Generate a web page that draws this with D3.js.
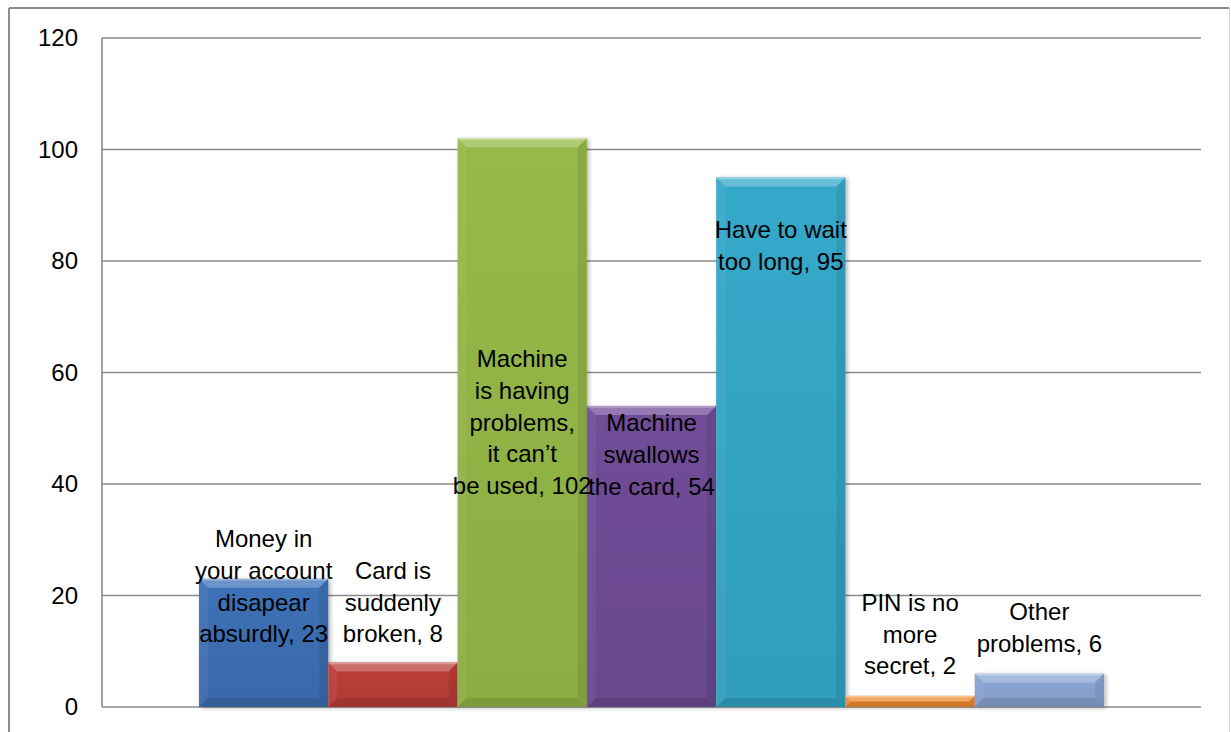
<!DOCTYPE html>
<html>
<head>
<meta charset="utf-8">
<script src="https://cdn.jsdelivr.net/npm/d3@7"></script>
<style>
  html, body { margin: 0; padding: 0; background: #ffffff; }
  svg { display: block; font-family: "Liberation Sans", Arial, sans-serif; }
</style>
</head>
<body>
<svg id="chart" width="1231" height="732"></svg>
<script>
// ---- data ----
const categories = [
  "Money in your account disapear absurdly",
  "Card is suddenly broken",
  "Machine is having problems, it can’t be used",
  "Machine swallows the card",
  "Have to wait too long",
  "PIN is no more secret",
  "Other problems"
];
const values = [23, 8, 102, 54, 95, 2, 6];
const labelLines = [
  ["Money in", "your account", "disapear", "absurdly, 23"],
  ["Card is", "suddenly", "broken, 8"],
  ["Machine", "is having", "problems,", "it can’t", "be used, 102"],
  ["Machine", "swallows", "the card, 54"],
  ["Have to wait", "too long, 95"],
  ["PIN is no", "more", "secret, 2"],
  ["Other", "problems, 6"]
];
const yTicks = [0, 20, 40, 60, 80, 100, 120];

// label anchor: value-axis level of the last line's baseline
const labelAnchor = [11.57, 11.57, 38.2, 38.1, 78.4, 5.83, 9.87];
const barColors = ["#3c6fb3", "#ba3d39", "#93b647", "#6f4c95", "#34a6c6", "#ef8a2f", "#8aa4d3"];

// ---- layout ----
const svg = d3.select("#chart");
const plot = { left: 102, right: 1201, top: 38, bottom: 707 };

const x = d3.scaleBand()
  .domain(categories)
  .range([plot.left, plot.right])
  .paddingInner(0)
  .paddingOuter(0.75);
const y = d3.scaleLinear().domain([0, 120]).range([plot.bottom, plot.top]);

// outer chart border
svg.append("line").attr("x1", 9).attr("y1", 8).attr("x2", 1229).attr("y2", 8)
  .attr("stroke", "#8c8c8c").attr("stroke-width", 2);
svg.append("line").attr("x1", 9).attr("y1", 8).attr("x2", 9).attr("y2", 740)
  .attr("stroke", "#8c8c8c").attr("stroke-width", 2);
svg.append("line").attr("x1", 1229.5).attr("y1", 8).attr("x2", 1229.5).attr("y2", 740)
  .attr("stroke", "#d4d4d4").attr("stroke-width", 1);

// gridlines
svg.append("g").selectAll("line").data(yTicks).join("line")
  .attr("x1", plot.left).attr("x2", plot.right)
  .attr("y1", d => y(d)).attr("y2", d => y(d))
  .attr("stroke", "#8a8a8a").attr("stroke-width", 1.6);

// plot area left border
svg.append("line").attr("x1", plot.left).attr("x2", plot.left)
  .attr("y1", y(120)).attr("y2", y(0))
  .attr("stroke", "#8a8a8a").attr("stroke-width", 1.6);

// y axis labels
const yAxis = d3.axisLeft(y).tickValues(yTicks).tickSize(0).tickPadding(24).tickFormat(d3.format("d"));
const ag = svg.append("g").attr("transform", `translate(${plot.left},0)`).call(yAxis);
ag.select(".domain").remove();
ag.selectAll("text")
  .attr("font-family", "'Liberation Sans', Arial, sans-serif")
  .attr("font-size", 24).attr("fill", "#000").attr("dy", "0.33em");

// shadow filter
const defs = svg.append("defs");
const f = defs.append("filter").attr("id", "shadow").attr("x", "-10%").attr("y", "-10%").attr("width", "130%").attr("height", "130%");
f.append("feGaussianBlur").attr("in", "SourceAlpha").attr("stdDeviation", 2);
f.append("feOffset").attr("dx", 2).attr("dy", 1).attr("result", "ob");
f.append("feComponentTransfer").append("feFuncA").attr("type", "linear").attr("slope", 0.3);
const fm = f.append("feMerge");
fm.append("feMergeNode");
fm.append("feMergeNode").attr("in", "SourceGraphic");

// gradients
barColors.forEach((c, i) => {
  const g = defs.append("linearGradient").attr("id", "grad" + i)
    .attr("x1", 0).attr("y1", 0).attr("x2", 0).attr("y2", 1);
  g.append("stop").attr("offset", "0%").attr("stop-color", d3.color(c).brighter(0.05));
  g.append("stop").attr("offset", "100%").attr("stop-color", d3.color(c).darker(0.15));
});

// bars with bevel
const bars = svg.append("g").selectAll("g").data(values).join("g")
  .attr("filter", "url(#shadow)");
bars.each(function(v, i) {
  const g = d3.select(this);
  const bx = x(categories[i]), bw = x.bandwidth();
  const by = y(v), bh = y(0) - y(v);
  const b = Math.min(9, bh / 2, bw / 2);
  g.append("rect").attr("x", bx).attr("y", by).attr("width", bw).attr("height", bh)
    .attr("fill", `url(#grad${i})`);
  // top bevel
  g.append("polygon")
    .attr("points", [[bx, by], [bx + bw, by], [bx + bw - b, by + b], [bx + b, by + b]].join(" "))
    .attr("fill", "#ffffff").attr("opacity", 0.25);
  // left
  g.append("polygon")
    .attr("points", [[bx, by], [bx + b, by + b], [bx + b, by + bh - b], [bx, by + bh]].join(" "))
    .attr("fill", "#ffffff").attr("opacity", 0.05);
  // right
  g.append("polygon")
    .attr("points", [[bx + bw, by], [bx + bw - b, by + b], [bx + bw - b, by + bh - b], [bx + bw, by + bh]].join(" "))
    .attr("fill", "#000000").attr("opacity", 0.08);
  // bottom
  g.append("polygon")
    .attr("points", [[bx, by + bh], [bx + b, by + bh - b], [bx + bw - b, by + bh - b], [bx + bw, by + bh]].join(" "))
    .attr("fill", "#000000").attr("opacity", 0.1);
  // thin top highlight line
  g.append("line").attr("x1", bx + 1).attr("x2", bx + bw - 1).attr("y1", by + 1).attr("y2", by + 1)
    .attr("stroke", "#ffffff").attr("stroke-opacity", 0.3).attr("stroke-width", 1.5);
});

// data labels
const lineH = 31.7;
const lg = svg.append("g");
labelLines.forEach((lines, i) => {
  const cx = x(categories[i]) + x.bandwidth() / 2;
  const lastBase = y(labelAnchor[i]);
  const t = lg.append("text")
    .attr("text-anchor", "middle")
    .attr("font-family", "'Liberation Sans', Arial, sans-serif")
    .attr("font-size", 24).attr("fill", "#000");
  lines.forEach((ln, k) => {
    t.append("tspan").attr("x", cx)
      .attr("y", lastBase - (lines.length - 1 - k) * lineH)
      .text(ln);
  });
});
</script>
</body>
</html>
